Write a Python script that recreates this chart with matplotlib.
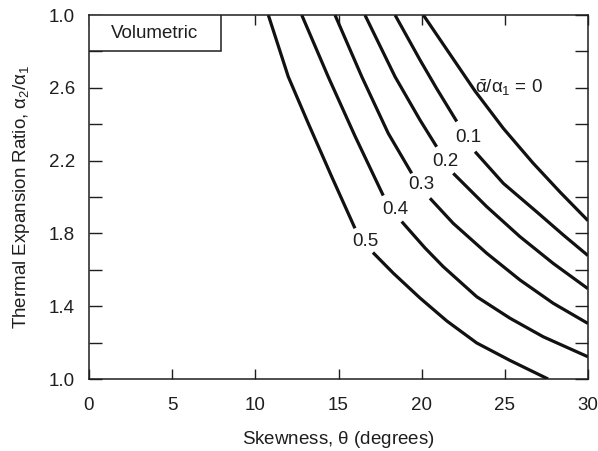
import matplotlib
matplotlib.use("Agg")
import matplotlib.pyplot as plt
from matplotlib.patches import Rectangle

plt.rcParams['font.family'] = ['Liberation Sans', 'DejaVu Sans']
plt.rcParams['mathtext.fontset'] = 'custom'
plt.rcParams['mathtext.rm'] = 'Liberation Sans'
plt.rcParams['mathtext.it'] = 'Liberation Sans'
plt.rcParams['mathtext.bf'] = 'Liberation Sans:bold'

# ---- data (skewness theta in degrees, thermal expansion ratio alpha2/alpha1) ----
# each curve split into the part above its label and the part below it
theta_00 = [20.10, 21.90, 23.21, 24.91, 26.69, 28.32, 30.0]
ratio_00 = [3.0, 2.758, 2.582, 2.377, 2.187, 2.027, 1.870]

theta_01a = [18.40, 19.90, 20.90, 22.11]
ratio_01a = [3.0, 2.753, 2.596, 2.415]
theta_01b = [23.21, 24.91, 26.92, 28.52, 30.0]
ratio_01b = [2.249, 2.075, 1.918, 1.791, 1.678]

theta_02a = [16.59, 18.40, 19.90, 20.90]
ratio_02a = [3.0, 2.661, 2.423, 2.276]
theta_02b = [21.90, 23.91, 25.91, 27.91, 30.0]
ratio_02b = [2.130, 1.947, 1.782, 1.635, 1.496]

theta_03a = [14.79, 16.40, 17.99, 19.40]
ratio_03a = [3.0, 2.661, 2.350, 2.130]
theta_03b = [20.50, 21.90, 23.91, 25.91, 27.91, 30.0]
ratio_03b = [1.993, 1.855, 1.691, 1.544, 1.416, 1.305]

theta_04a = [12.79, 14.39, 15.99, 17.69]
ratio_04a = [3.0, 2.659, 2.335, 2.008]
theta_04b = [18.80, 20.20, 21.30, 23.31, 25.31, 27.31, 30.0]
ratio_04b = [1.865, 1.720, 1.617, 1.452, 1.334, 1.232, 1.122]

theta_05a = [10.78, 11.98, 13.18, 14.59, 15.99]
ratio_05a = [3.0, 2.661, 2.405, 2.112, 1.828]
theta_05b = [17.07, 18.30, 19.90, 21.51, 23.31, 25.31, 27.60]
ratio_05b = [1.695, 1.581, 1.445, 1.319, 1.198, 1.102, 1.0]

curve_labels = ['0.1', '0.2', '0.3', '0.4', '0.5']
label_x = [22.81, 21.40, 20.00, 18.40, 16.59]
label_y = [2.326, 2.194, 2.066, 1.929, 1.754]

x_ticks = [0, 5, 10, 15, 20, 25, 30]
y_ticks = [1.0, 1.4, 1.8, 2.2, 2.6, 3.0]
y_ticklabels = ['1.0', '1.4', '1.8', '2.2', '2.6', '1.0']
y_minor = [1.2, 1.6, 2.0, 2.4, 2.8]

FS = 13.5
INK = '#1e1e1e'

fig = plt.figure(figsize=(5.98, 4.51), dpi=100)
ax = fig.add_axes([89/598, 72/451, 499/598, 364/451])

lw = 2.3
segs = [(theta_00, ratio_00),
        (theta_01a, ratio_01a), (theta_01b, ratio_01b),
        (theta_02a, ratio_02a), (theta_02b, ratio_02b),
        (theta_03a, ratio_03a), (theta_03b, ratio_03b),
        (theta_04a, ratio_04a), (theta_04b, ratio_04b),
        (theta_05a, ratio_05a), (theta_05b, ratio_05b)]
for xs, ys in segs:
    ax.plot(xs, ys, color='#111111', lw=lw, solid_capstyle='butt',
            solid_joinstyle='round')

for t, lx, ly in zip(curve_labels, label_x, label_y):
    ax.text(lx, ly, t, fontsize=FS, ha='center', va='center', color=INK)

ax.text(23.2, 2.60, r'$\bar{\alpha}/\alpha_1$ = 0', fontsize=FS, ha='left',
        va='center', color=INK)

ax.set_xlim(0, 30)
ax.set_ylim(1.0, 3.0)
ax.set_xticks(x_ticks)
ax.set_yticks(y_ticks)
ax.set_yticklabels(y_ticklabels)
ax.set_yticks(y_minor, minor=True)

ax.tick_params(axis='both', which='both', direction='in', labelsize=FS,
               colors=INK, width=1.0)
ax.tick_params(axis='y', which='both', length=9.5, pad=10, left=True, right=True)
ax.tick_params(axis='x', which='both', length=7, pad=13, top=True, bottom=True)

for s in ax.spines.values():
    s.set_linewidth(1.1)
    s.set_color(INK)

ax.set_xlabel(r'Skewness, $\theta$ (degrees)', fontsize=FS, color=INK, labelpad=11)
ax.set_ylabel(r'Thermal Expansion Ratio, $\alpha_2/\alpha_1$', fontsize=FS,
              color=INK, labelpad=12)

box = Rectangle((0, 1 - 36/364), 131.7/499, 36/364, transform=ax.transAxes,
                facecolor='white', edgecolor=INK, lw=1.1, zorder=5)
ax.add_patch(box)
ax.text(66/499, 1 - 19/364, 'Volumetric', transform=ax.transAxes, fontsize=FS,
        ha='center', va='center', color=INK, zorder=6)

fig.savefig('out.png', dpi=100)
